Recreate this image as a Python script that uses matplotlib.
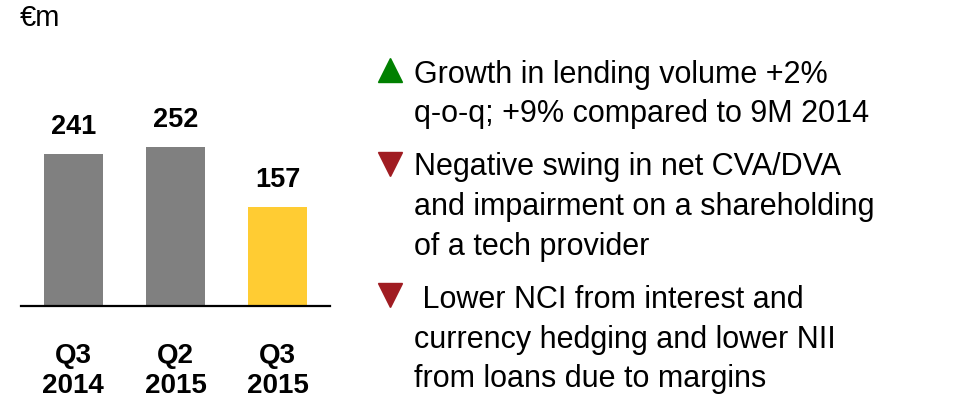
import matplotlib
matplotlib.use("Agg")
import matplotlib.pyplot as plt
from matplotlib.lines import Line2D

plt.rcParams['font.family'] = ['Liberation Sans', 'DejaVu Sans']

categories = ["Q3\n2014", "Q2\n2015", "Q3\n2015"]
values = [241, 252, 157]
bar_colors = ["#808080", "#808080", "#FFCC33"]
unit_label = "€m"

bullets = [
    ("up", ["Growth in lending volume +2%", "q-o-q; +9% compared to 9M 2014"]),
    ("down", ["Negative swing in net CVA/DVA", "and impairment on a shareholding", "of a tech provider"]),
    ("down", [" Lower NCI from interest and", "currency hedging and lower NII", "from loans due to margins"]),
]

W, H = 965, 402
fig = plt.figure(figsize=(W / 100, H / 100), dpi=100)

def fx(px):
    return px / W

def fy(py):
    return 1 - py / H

# bar axes: left 21px, right 330px, baseline 307px, top 107px
ax = fig.add_axes([fx(21), fy(307), fx(330 - 21), (307 - 107) / H])
x = list(range(len(values)))
ax.bar(x, values, width=0.58, color=bar_colors)
ax.set_xlim(-0.51, 2.51)
ax.set_ylim(0, 200 / (152 / 241))
for s in ["top", "right", "left"]:
    ax.spines[s].set_visible(False)
ax.spines["bottom"].set_linewidth(1.6)
ax.set_yticks([])
ax.set_xticks(x)
ax.set_xticklabels(categories, fontsize=20, fontweight="bold", linespacing=1.2)
ax.tick_params(axis="x", length=0, pad=26)
for xi, v in zip(x, values):
    ax.annotate(str(v), (xi, v), xytext=(0, 10.5), textcoords="offset points",
                ha="center", va="bottom", fontsize=19.5, fontweight="bold")

fig.text(fx(20), fy(18), unit_label, fontsize=21, ha="left", va="center")

# bullets
line_baselines = [[83, 122], [175, 215, 255], [308, 348, 387]]
tri_y = [71, 165, 296]
for (kind, lines), ys, ty in zip(bullets, line_baselines, tri_y):
    color = "#008000" if kind == "up" else "#A01C22"
    marker = "^" if kind == "up" else "v"
    fig.add_artist(Line2D([fx(390)], [fy(ty)], marker=marker, markersize=17.5,
                          color=color, linestyle="none", transform=fig.transFigure))
    for line, yb in zip(lines, ys):
        fig.text(fx(414), fy(yb), line, fontsize=22, ha="left", va="baseline")

fig.savefig("out.png", dpi=100)
